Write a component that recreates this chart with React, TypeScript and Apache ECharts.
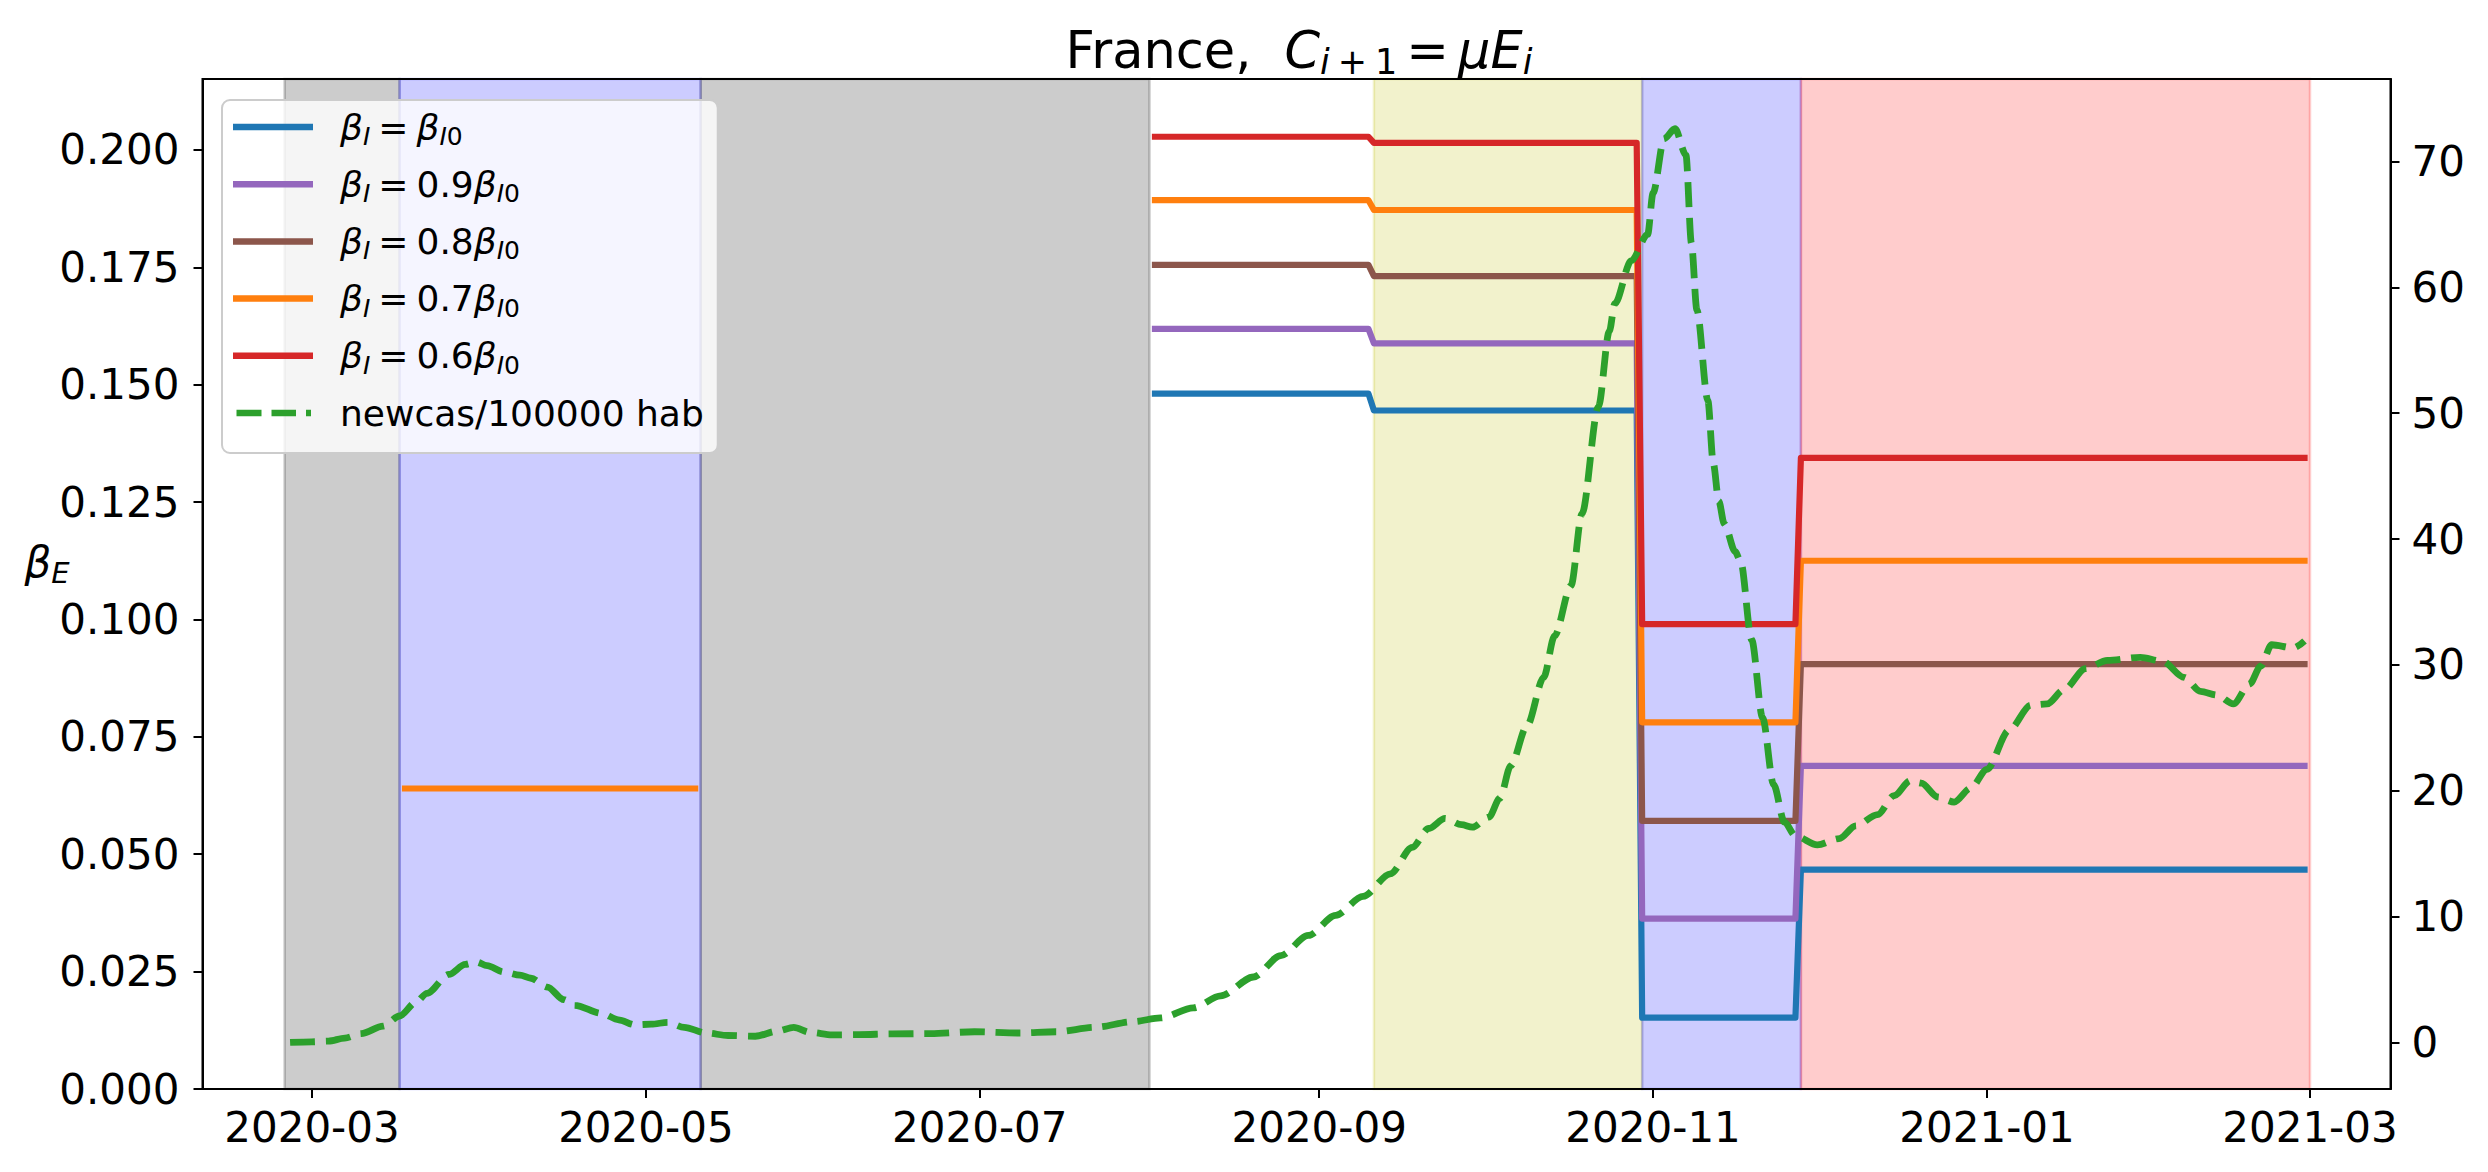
import React, { useEffect, useRef } from 'react';
import * as echarts from 'echarts';

// ---------- data ----------
const stepDates = ['2020-08-02', '2020-09-10', '2020-09-11', '2020-10-29', '2020-10-30', '2020-11-27', '2020-11-28', '2021-02-28'];
const betaI0 = [0.1481, 0.1445, 0.0152, 0.0467];
const beta09 = [0.1619, 0.1588, 0.0363, 0.0688];
const beta08 = [0.1755, 0.1731, 0.0571, 0.0905];
const beta07 = [0.1893, 0.1872, 0.0781, 0.1125];
const beta06 = [0.2028, 0.2015, 0.099, 0.1344];
const beta07LockDates = ['2020-03-18', '2020-05-10'];
const beta07LockValue = 0.064;
const beta07GapDate = '2020-06-15';

const caseDates = ['2020-02-26','2020-03-01','2020-03-04','2020-03-07','2020-03-10','2020-03-14','2020-03-17','2020-03-20','2020-03-22','2020-03-26','2020-03-29','2020-03-31','2020-04-02','2020-04-05','2020-04-08','2020-04-10','2020-04-13','2020-04-16','2020-04-18','2020-04-23','2020-04-26','2020-04-29','2020-05-02','2020-05-05','2020-05-08','2020-05-12','2020-05-16','2020-05-21','2020-05-25','2020-05-28','2020-05-31','2020-06-04','2020-06-09','2020-06-15','2020-06-22','2020-06-30','2020-07-08','2020-07-15','2020-07-22','2020-07-29','2020-08-03','2020-08-09','2020-08-14','2020-08-20','2020-08-25','2020-08-30','2020-09-04','2020-09-09','2020-09-14','2020-09-18','2020-09-21','2020-09-24','2020-09-27','2020-09-29','2020-10-02','2020-10-04','2020-10-06','2020-10-09','2020-10-12','2020-10-14','2020-10-17','2020-10-19','2020-10-22','2020-10-24','2020-10-25','2020-10-28','2020-10-31','2020-11-01','2020-11-03','2020-11-05','2020-11-07','2020-11-08','2020-11-09','2020-11-11','2020-11-12','2020-11-13','2020-11-14','2020-11-16','2020-11-17','2020-11-19','2020-11-21','2020-11-23','2020-11-25','2020-11-27','2020-12-01','2020-12-05','2020-12-08','2020-12-12','2020-12-15','2020-12-18','2020-12-20','2020-12-23','2020-12-26','2020-12-29','2021-01-01','2021-01-05','2021-01-09','2021-01-12','2021-01-15','2021-01-19','2021-01-23','2021-01-29','2021-02-02','2021-02-06','2021-02-09','2021-02-12','2021-02-15','2021-02-18','2021-02-20','2021-02-22','2021-02-26','2021-02-28'];
const caseValues = [0.0,0.05,0.1,0.35,0.7,1.3,2.1,3.2,3.9,5.4,6.2,6.4,6.1,5.6,5.35,5.1,4.4,3.4,2.95,2.3,1.8,1.4,1.45,1.6,1.2,0.75,0.55,0.49,0.9,1.2,0.8,0.6,0.62,0.68,0.7,0.85,0.75,0.85,1.2,1.65,1.95,2.75,3.7,5.2,6.9,8.5,10.1,11.6,13.4,15.5,17.0,17.8,17.3,17.1,17.9,19.4,22.0,25.2,29.0,32.3,36.3,42.0,50.5,56.5,58.7,62.1,64.2,67.5,71.8,72.6,70.5,63.5,58.2,51.0,46.0,43.0,41.2,39.0,38.2,32.0,25.8,20.5,17.5,16.4,15.7,16.2,17.2,18.1,19.6,20.8,20.6,19.5,19.1,20.2,21.7,24.8,26.8,26.9,28.0,29.7,30.35,30.6,30.3,29.0,27.9,27.6,26.9,28.5,29.9,31.6,31.35,31.9];

const spanStarts = ['2020-02-25', '2020-03-17', '2020-05-11', '2020-09-11', '2020-10-30', '2020-11-28'];
const spanEnds = ['2020-03-17', '2020-05-11', '2020-08-01', '2020-10-30', '2020-11-28', '2021-03-01'];
const spanKinds = ['gray', 'blue', 'gray', 'yellow', 'blue', 'red'];

const xTickDates = ['2020-03-01', '2020-05-01', '2020-07-01', '2020-09-01', '2020-11-01', '2021-01-01', '2021-03-01'];
const leftTicks = [0, 0.025, 0.05, 0.075, 0.1, 0.125, 0.15, 0.175, 0.2];
const rightTicks = [0, 10, 20, 30, 40, 50, 60, 70];
const xRange = ['2020-02-10', '2021-03-15T17:00'];
const leftRange = [0, 0.2151];
const rightRange = [-3.7, 76.55];

const seriesNames = ['bI0', 'b09', 'b08', 'b07', 'b06', 'newcas/100000 hab'];
const coefLabels = ['', '0.9', '0.8', '0.7', '0.6'];

// ---------- styles ----------
const FONT = 'DejaVu Sans';
const COLORS = ['#1f77b4', '#9467bd', '#8c564b', '#ff7f0e', '#d62728', '#2ca02c'];
const SPAN_COLORS: Record<string, string> = {
  gray: 'rgba(0,0,0,0.2)',
  blue: 'rgba(0,0,255,0.2)',
  yellow: 'rgba(191,191,0,0.2)',
  red: 'rgba(255,0,0,0.2)',
};
const GRID = { left: 202.5, top: 79, right: 2390.5, bottom: 1089 };
const W = 2488;
const H = 1172;

const toTime = (s: string) => {
  const [d, tm] = s.split('T');
  const [y, m, dd] = d.split('-').map(Number);
  let h = 0;
  let mi = 0;
  if (tm) {
    const p = tm.split(':').map(Number);
    h = p[0];
    mi = p[1];
  }
  return new Date(y, m - 1, dd, h, mi).getTime();
};

const stepData = (levels: number[]) => stepDates.map((d, i) => [toTime(d), levels[Math.floor(i / 2)]]);

const SOLID_ICON = 'path://M0,0H80V6.5H0Z M101.9,3.2H102V3.21H101.9Z';
const DASH_ICON = 'path://M3.5,0H28.5V6.5H3.5Z M38.5,0H63V6.5H38.5Z M73,0H78V6.5H73Z M0,3.2H0.1V3.21H0Z M101.9,3.2H102V3.21H101.9Z';

export default function App() {
  const ref = useRef<HTMLDivElement>(null);
  useEffect(() => {
    document.body.style.margin = '0';
    const chart = echarts.init(ref.current as HTMLDivElement, null, { renderer: 'svg' });

    const betaLevels = [betaI0, beta09, beta08, beta07, beta06];
    const betaSeries = betaLevels.map((lv, i) => {
      let data: any[] = stepData(lv);
      if (i === 3) {
        data = [
          [toTime(beta07LockDates[0]), beta07LockValue],
          [toTime(beta07LockDates[1]), beta07LockValue],
          [toTime(beta07GapDate), null],
          ...data,
        ];
      }
      return {
        name: seriesNames[i],
        type: 'line',
        yAxisIndex: 0,
        data,
        showSymbol: false,
        symbol: 'none',
        color: COLORS[i],
        itemStyle: { color: COLORS[i], borderWidth: 0 },
        lineStyle: { color: COLORS[i], width: 6.2, cap: 'square', join: 'round' },
        z: 3,
        silent: true,
        connectNulls: false,
      };
    });

    const greenSeries = {
      name: seriesNames[5],
      type: 'line',
      yAxisIndex: 1,
      data: caseDates.map((d, i) => [toTime(d), caseValues[i]]),
      showSymbol: false,
      symbol: 'none',
      smooth: 0.3,
      smoothMonotone: 'x',
      color: COLORS[5],
      itemStyle: { color: COLORS[5], borderWidth: 0 },
      lineStyle: { color: COLORS[5], width: 6.8, type: [25, 10.7], cap: 'butt' },
      z: 4,
      silent: true,
    };

    const spanSeries = {
      name: 'spans',
      type: 'line',
      yAxisIndex: 0,
      data: [],
      silent: true,
      z: 1,
      markArea: {
        silent: true,
        data: spanStarts.map((s, i) => [
          {
            xAxis: toTime(s),
            itemStyle: {
              color: SPAN_COLORS[spanKinds[i]],
              borderColor: SPAN_COLORS[spanKinds[i]],
              borderWidth: 2.5,
              opacity: 1,
            },
          },
          { xAxis: toTime(spanEnds[i]) },
        ]),
      },
    };

    const legendLabel = (name: string) => {
      const idx = seriesNames.indexOf(name);
      if (idx === 5) return `{n|${name}}`;
      return `{it|β}{si|I}{eq|=}${coefLabels[idx] ? `{n|${coefLabels[idx]}}` : ''}{it|β}{si|I}{s0|0}`;
    };

    const labelStyle = { fontFamily: FONT, fontSize: 42, color: '#000' };
    const xTickTimes = xTickDates.map(toTime);

    const option: any = {
      animation: false,
      grid: {
        left: GRID.left,
        top: GRID.top,
        right: W - GRID.right,
        bottom: H - GRID.bottom,
        containLabel: false,
      },
      xAxis: {
        type: 'value',
        min: toTime(xRange[0]),
        max: toTime(xRange[1]),
        splitLine: { show: false },
        axisLine: { show: true, lineStyle: { color: '#000', width: 2 } },
        axisTick: { show: true, length: 9, lineStyle: { color: '#000', width: 2 }, customValues: xTickTimes },
        axisLabel: {
          ...labelStyle,
          margin: 17,
          customValues: xTickTimes,
          hideOverlap: false,
          formatter: (v: number) => {
            const d = new Date(v);
            const m = d.getMonth() + 1;
            return `${d.getFullYear()}-${m < 10 ? '0' + m : m}`;
          },
        },
      },
      yAxis: [
        {
          type: 'value',
          position: 'left',
          min: leftRange[0],
          max: leftRange[1],
          splitLine: { show: false },
          axisLine: { show: true, lineStyle: { color: '#000', width: 2 } },
          axisTick: { show: true, length: 9, lineStyle: { color: '#000', width: 2 }, customValues: leftTicks },
          axisLabel: { ...labelStyle, margin: 23, customValues: leftTicks, formatter: (v: number) => v.toFixed(3) },
        },
        {
          type: 'value',
          position: 'right',
          min: rightRange[0],
          max: rightRange[1],
          splitLine: { show: false },
          axisLine: { show: true, lineStyle: { color: '#000', width: 2 } },
          axisTick: { show: true, length: 9, lineStyle: { color: '#000', width: 2 }, customValues: rightTicks },
          axisLabel: { ...labelStyle, margin: 21, customValues: rightTicks, formatter: (v: number) => String(v) },
        },
      ],
      legend: {
        show: true,
        orient: 'vertical',
        left: 222,
        top: 100,
        data: seriesNames.map((n, i) => ({ name: n, icon: i === 5 ? DASH_ICON : SOLID_ICON })),
        itemWidth: 102,
        itemHeight: 6.5,
        itemGap: 17.2,
        symbolKeepAspect: false,
        padding: [9, 14, 22, 11],
        backgroundColor: 'rgba(255,255,255,0.8)',
        borderColor: '#cccccc',
        borderWidth: 2,
        borderRadius: 8,
        selectedMode: false,
        itemStyle: { borderWidth: 0 },
        formatter: legendLabel,
        textStyle: {
          fontFamily: FONT,
          fontSize: 36,
          color: '#000',
          rich: {
            n: { fontFamily: FONT, fontSize: 36, lineHeight: 44, color: '#000' },
            it: { fontFamily: FONT, fontStyle: 'italic', fontSize: 36, lineHeight: 44, color: '#000' },
            eq: { fontFamily: FONT, fontSize: 36, lineHeight: 44, color: '#000', padding: [0, 8, 0, 8] },
            si: { fontFamily: FONT, fontStyle: 'italic', fontSize: 25, lineHeight: 24, verticalAlign: 'bottom', color: '#000' },
            s0: { fontFamily: FONT, fontSize: 25, lineHeight: 24, verticalAlign: 'bottom', color: '#000' },
          },
        },
      },
      graphic: [
        {
          type: 'text',
          x: 1299,
          y: 21,
          z: 100,
          silent: true,
          style: {
            text: '{fr|France,}{it|C}{si|i}{sp|+}{sn|1}{eq|=}{it|μE}{si|i}',
            align: 'center',
            verticalAlign: 'top',
            textAlign: 'center',
            textVerticalAlign: 'top',
            fill: '#000',
            rich: {
              fr: { fontFamily: FONT, fontSize: 51, lineHeight: 58, fill: '#000', padding: [0, 33, 0, 0] },
              it: { fontFamily: FONT, fontStyle: 'italic', fontSize: 51, lineHeight: 58, fill: '#000' },
              eq: { fontFamily: FONT, fontSize: 51, lineHeight: 58, fill: '#000', padding: [0, 9, 0, 9] },
              si: { fontFamily: FONT, fontStyle: 'italic', fontSize: 35, lineHeight: 31, verticalAlign: 'bottom', fill: '#000' },
              sp: { fontFamily: FONT, fontSize: 35, lineHeight: 31, verticalAlign: 'bottom', fill: '#000', padding: [0, 8, 0, 8] },
              sn: { fontFamily: FONT, fontSize: 35, lineHeight: 31, verticalAlign: 'bottom', fill: '#000' },
            },
          },
        },
        {
          type: 'text',
          x: 47,
          y: 562,
          z: 100,
          silent: true,
          style: {
            text: '{it|β}{si|E}',
            align: 'center',
            verticalAlign: 'middle',
            textAlign: 'center',
            textVerticalAlign: 'middle',
            fill: '#000',
            rich: {
              it: { fontFamily: FONT, fontStyle: 'italic', fontSize: 42, lineHeight: 50, fill: '#000' },
              si: { fontFamily: FONT, fontStyle: 'italic', fontSize: 29, lineHeight: 26, verticalAlign: 'bottom', fill: '#000' },
            },
          },
        },
        {
          type: 'rect',
          z: 100,
          silent: true,
          shape: { x: GRID.left, y: GRID.top, width: GRID.right - GRID.left, height: GRID.bottom - GRID.top },
          style: { fill: 'none', stroke: '#000', lineWidth: 2 },
        },
      ],
      series: [spanSeries, ...betaSeries, greenSeries],
    };

    chart.setOption(option);
    return () => chart.dispose();
  }, []);

  return <div ref={ref} style={{ width: W, height: H }} />;
}
